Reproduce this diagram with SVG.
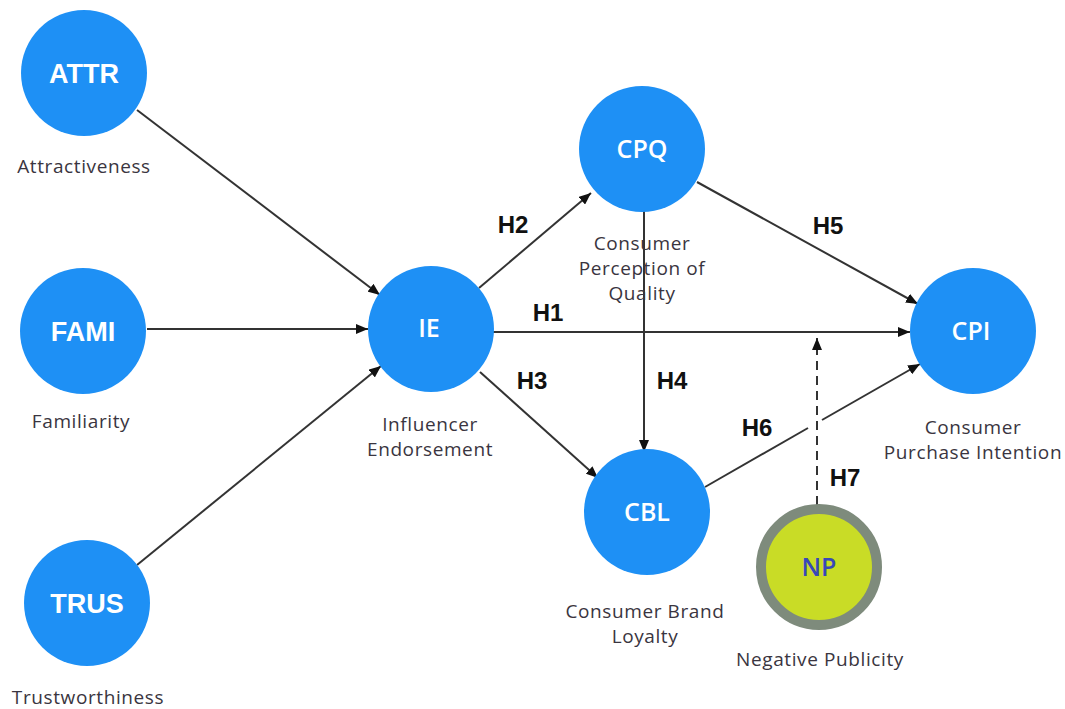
<svg xmlns="http://www.w3.org/2000/svg" width="1065" height="709" viewBox="0 0 1065 709">
<style>
.node{fill:#1E90F5}
.t1{font-family:"Liberation Sans",Arial,sans-serif;font-weight:bold;font-size:27px;fill:#fff;text-anchor:middle}
.t2{font-family:"Open Sans","Noto Sans",sans-serif;font-weight:600;font-size:25px;fill:#fff;text-anchor:middle}
.sub{font-family:"Open Sans","Noto Sans",sans-serif;font-weight:500;font-size:19px;letter-spacing:0.6px;fill:#3a3540;text-anchor:middle}
.h{font-family:"Liberation Sans",Arial,sans-serif;font-weight:bold;font-size:24px;fill:#111;text-anchor:middle}
.c{stroke:#333;stroke-width:2;fill:none}
</style>
<defs>
<marker id="ah" viewBox="0 0 12 10" refX="12" refY="5" markerWidth="12" markerHeight="10" markerUnits="userSpaceOnUse" orient="auto">
<path d="M0,0 L12,5 L0,10 z" fill="#111"/>
</marker>
</defs>
<rect width="1065" height="709" fill="#fff"/>
<g id="connectors">
<line class="c" x1="137" y1="110" x2="380" y2="295" marker-end="url(#ah)"/>
<line class="c" x1="147" y1="329" x2="368" y2="329" marker-end="url(#ah)"/>
<line class="c" x1="137" y1="565" x2="381" y2="366" marker-end="url(#ah)"/>
<line class="c" x1="479" y1="288" x2="591" y2="193" marker-end="url(#ah)"/>
<line class="c" x1="493" y1="332" x2="910" y2="332" marker-end="url(#ah)"/>
<line class="c" x1="480" y1="372" x2="598" y2="478" marker-end="url(#ah)"/>
<line class="c" x1="644" y1="210" x2="644" y2="452" marker-end="url(#ah)"/>
<line class="c" x1="697" y1="182" x2="918" y2="304" marker-end="url(#ah)"/>
<line class="c" x1="705" y1="487" x2="808" y2="428"/>
<line class="c" x1="822" y1="420" x2="920" y2="364" marker-end="url(#ah)"/>
<line class="c" x1="817" y1="505" x2="817" y2="338" stroke-dasharray="9,6" marker-end="url(#ah)"/>
</g>
<g id="ATTR"><circle class="node" cx="84" cy="73" r="63"/><text class="t1" x="84" y="83">ATTR</text><text class="sub" x="84" y="173">Attractiveness</text></g>
<g id="FAMI"><circle class="node" cx="83" cy="331" r="63"/><text class="t1" x="83" y="341">FAMI</text><text class="sub" x="81" y="428">Familiarity</text></g>
<g id="TRUS"><circle class="node" cx="87" cy="603" r="63"/><text class="t1" x="87" y="613">TRUS</text><text class="sub" x="88" y="704">Trustworthiness</text></g>
<g id="IE"><circle class="node" cx="431" cy="329" r="63"/><text class="t2" x="429" y="337">IE</text><text class="sub" x="430" y="431">Influencer</text><text class="sub" x="430" y="456">Endorsement</text></g>
<g id="CPQ"><circle class="node" cx="642" cy="149" r="63"/><text class="t2" x="642" y="158">CPQ</text><text class="sub" x="642" y="250">Consumer</text><text class="sub" x="642" y="275">Perception of</text><text class="sub" x="642" y="300">Quality</text></g>
<g id="CPI"><circle class="node" cx="973" cy="331" r="63"/><text class="t2" x="971" y="340">CPI</text><text class="sub" x="973" y="434">Consumer</text><text class="sub" x="973" y="459">Purchase Intention</text></g>
<g id="CBL"><circle class="node" cx="647" cy="512" r="63"/><text class="t2" x="647" y="521">CBL</text><text class="sub" x="645" y="618">Consumer Brand</text><text class="sub" x="645" y="643">Loyalty</text></g>
<g id="NP"><circle cx="819" cy="567" r="58" fill="#C9DC26" stroke="#7E8B7C" stroke-width="10"/><text class="t2" x="819" y="576" style="fill:#3848B8">NP</text><text class="sub" x="820" y="666">Negative Publicity</text></g>
<g id="labels">
<text class="h" x="513" y="233">H2</text>
<text class="h" x="828" y="234">H5</text>
<text class="h" x="548" y="321">H1</text>
<text class="h" x="532" y="389">H3</text>
<text class="h" x="672" y="389">H4</text>
<text class="h" x="757" y="436">H6</text>
<text class="h" x="845" y="486">H7</text>
</g>
</svg>
